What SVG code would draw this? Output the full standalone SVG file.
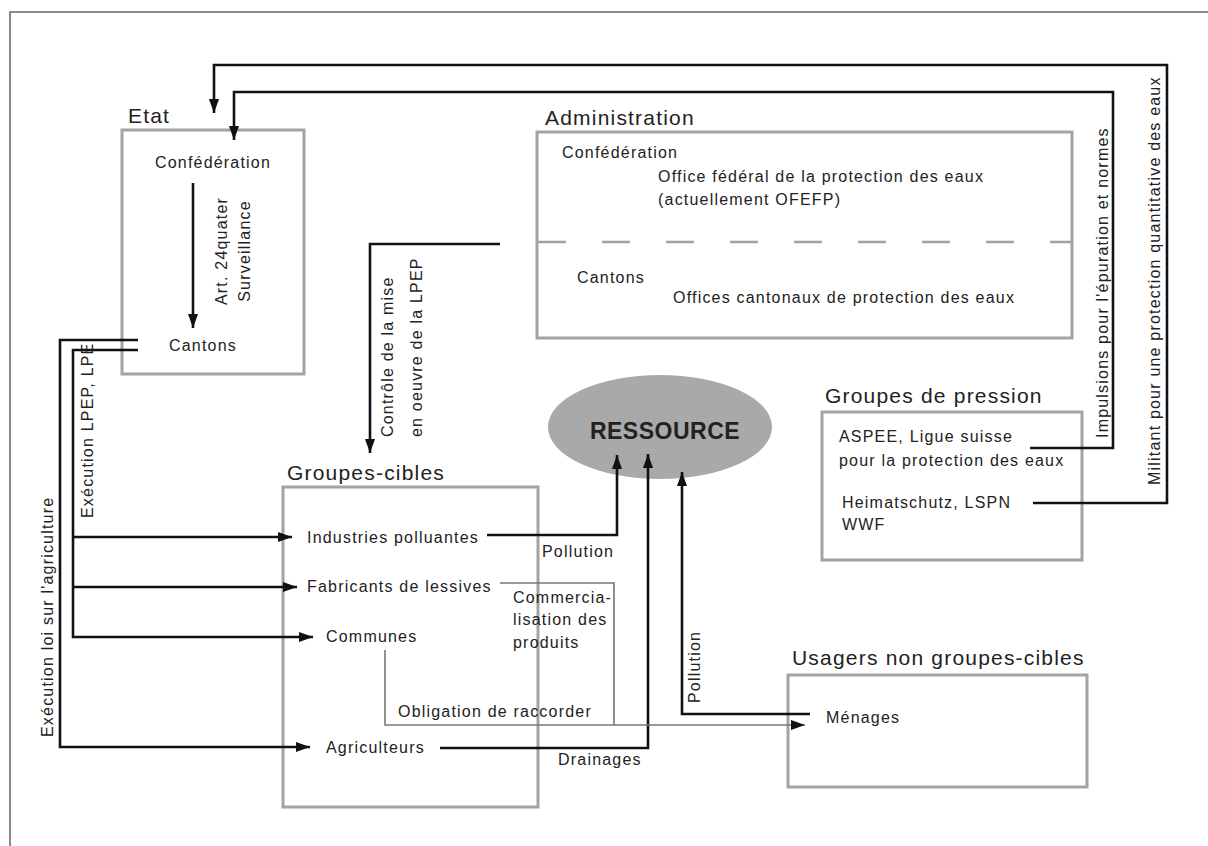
<svg xmlns="http://www.w3.org/2000/svg" width="1208" height="846" viewBox="0 0 1208 846">
<style>
text{font-family:"Liberation Sans",Arial,sans-serif;fill:#222;}
.t{font-size:16px;letter-spacing:1.2px;}
.lbl{font-size:21px;letter-spacing:1.2px;}
.box{fill:none;stroke:#a3a3a3;stroke-width:3;}
.ln{fill:none;stroke:#111;stroke-width:2.6;}
.gl{fill:none;stroke:#777;stroke-width:1.6;}
</style>
<defs>
<marker id="ah" viewBox="0 0 14 10" refX="14" refY="5" markerWidth="14" markerHeight="10" markerUnits="userSpaceOnUse" orient="auto">
<path d="M0,0 L14,5 L0,10 z" fill="#111"/>
</marker>
</defs>
<rect width="1208" height="846" fill="#fff"/>
<path d="M10,846 L10,12 L1208,12" fill="none" stroke="#8a8a8a" stroke-width="2"/>

<g id="etat">
<text class="lbl" x="128" y="123">Etat</text>
<rect class="box" x="122" y="130" width="182" height="244"/>
<text class="t" x="213" y="168" text-anchor="middle">Confédération</text>
<text class="t" x="203" y="351" text-anchor="middle">Cantons</text>
</g>

<g id="administration">
<text class="lbl" x="545" y="125">Administration</text>
<rect class="box" x="537" y="132" width="535" height="206"/>
<line x1="538" y1="242" x2="1071" y2="242" stroke="#a3a3a3" stroke-width="2.5" stroke-dasharray="28 36"/>
<text class="t" x="562" y="158">Confédération</text>
<text class="t" x="658" y="182">Office fédéral de la protection des eaux</text>
<text class="t" x="658" y="205">(actuellement OFEFP)</text>
<text class="t" x="577" y="283">Cantons</text>
<text class="t" x="673" y="303">Offices cantonaux de protection des eaux</text>
</g>

<g id="groupes-pression">
<text class="lbl" x="825" y="403">Groupes de pression</text>
<rect class="box" x="822" y="412" width="260" height="148"/>
<text class="t" x="839" y="442">ASPEE, Ligue suisse</text>
<text class="t" x="839" y="466">pour la protection des eaux</text>
<text class="t" x="842" y="508">Heimatschutz, LSPN</text>
<text class="t" x="842" y="530">WWF</text>
</g>

<g id="ressource">
<ellipse cx="660" cy="427" rx="112" ry="52" fill="#a9a9a9"/>
<text x="665" y="439" text-anchor="middle" font-size="23" font-weight="bold" letter-spacing="0.5">RESSOURCE</text>
</g>

<g id="groupes-cibles">
<text class="lbl" x="287" y="480">Groupes-cibles</text>
<rect class="box" x="283" y="487" width="255" height="320"/>
<text class="t" x="307" y="543">Industries polluantes</text>
<text class="t" x="307" y="592">Fabricants de lessives</text>
<text class="t" x="326" y="642">Communes</text>
<text class="t" x="326" y="753">Agriculteurs</text>
</g>

<g id="usagers">
<text class="lbl" x="792" y="665">Usagers non groupes-cibles</text>
<rect class="box" x="788" y="675" width="299" height="112"/>
<text class="t" x="826" y="723">Ménages</text>
</g>

<g id="connectors">
<polyline class="ln" points="1033,503 1167,503 1167,65 214,65 214,113" marker-end="url(#ah)"/>
<polyline class="ln" points="1030,448 1113,448 1113,92 234,92 234,140" marker-end="url(#ah)"/>
<line class="ln" x1="193" y1="183" x2="193" y2="328" marker-end="url(#ah)"/>
<polyline class="ln" points="500,244 370,244 370,453" marker-end="url(#ah)"/>
<polyline class="ln" points="138,340 60,340 60,747 310,747" marker-end="url(#ah)"/>
<polyline class="ln" points="138,350 73,350 73,637 313,637" marker-end="url(#ah)"/>
<line class="ln" x1="73" y1="537" x2="292" y2="537" marker-end="url(#ah)"/>
<line class="ln" x1="73" y1="587" x2="297" y2="587" marker-end="url(#ah)"/>
<polyline class="ln" points="487,535 617,535 617,455" marker-end="url(#ah)"/>
<polyline class="ln" points="440,748 648,748 648,454" marker-end="url(#ah)"/>
<polyline class="ln" points="810,714 682,714 682,472" marker-end="url(#ah)"/>
<polyline class="gl" points="500,583 614,583 614,725"/>
<polyline class="gl" points="385,650 385,725 805,725" marker-end="url(#ah)"/>

<text class="t" transform="translate(227,251) rotate(-90)" text-anchor="middle">Art. 24quater</text>
<text class="t" transform="translate(250,251) rotate(-90)" text-anchor="middle">Surveillance</text>
<text class="t" transform="translate(93,518) rotate(-90)" letter-spacing="0.4">Exécution LPEP, LPE</text>
<text class="t" transform="translate(53,737) rotate(-90)">Exécution loi sur l'agriculture</text>
<text class="t" transform="translate(393,437) rotate(-90)">Contrôle de la mise</text>
<text class="t" transform="translate(422,437) rotate(-90)">en oeuvre de la LPEP</text>
<text class="t" transform="translate(1108,438) rotate(-90)">Impulsions pour l'épuration et normes</text>
<text class="t" transform="translate(1160,485) rotate(-90)" letter-spacing="0.7">Militant pour une protection quantitative des eaux</text>
<text class="t" transform="translate(700,703) rotate(-90)">Pollution</text>
<text class="t" x="542" y="557">Pollution</text>
<text class="t" x="513" y="603">Commercia-</text>
<text class="t" x="513" y="625">lisation des</text>
<text class="t" x="513" y="648">produits</text>
<text class="t" x="398" y="717">Obligation de raccorder</text>
<text class="t" x="558" y="765">Drainages</text>
</g>
</svg>
